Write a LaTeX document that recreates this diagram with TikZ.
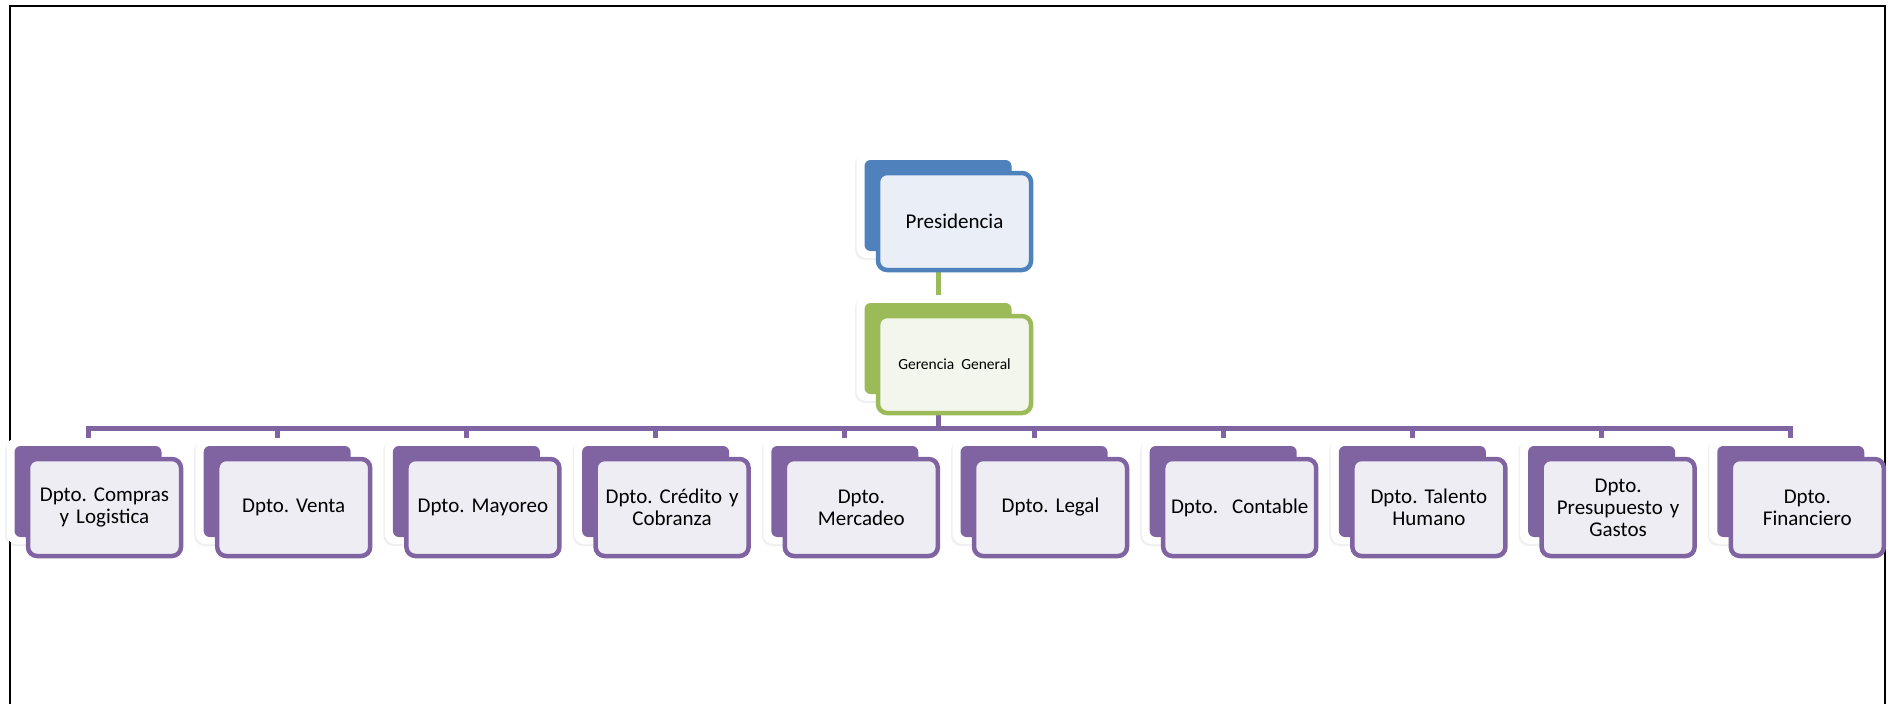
\documentclass[tikz,border=0pt]{standalone}
\usepackage{fontspec}
\setmainfont{Carlito}
\frenchspacing
\usetikzlibrary{shadows,backgrounds}
\definecolor{cblue}{HTML}{4F81BD}
\definecolor{cgreen}{HTML}{9BBB59}
\definecolor{cpurple}{HTML}{8064A2}
\definecolor{tblue}{HTML}{EAEFF7}
\definecolor{tgreen}{HTML}{F3F6EC}
\definecolor{tpurple}{HTML}{EFEDF4}
\tikzset{
  backbox/.style={rectangle, rounded corners=10pt, fill=white, minimum width=163pt,
    minimum height=106pt, inner sep=0pt,
    drop shadow={opacity=0.12, shadow xshift=-1.5pt, shadow yshift=-2pt}},
  fillbox/.style={rectangle, rounded corners=6pt, minimum width=147pt,
    minimum height=91pt, inner sep=0pt},
  frontbox/.style={rectangle, rounded corners=9pt, line width=4.5pt, minimum width=153pt,
    minimum height=97pt, inner sep=0pt, text width=150pt, align=center,
    font=\fontsize{21}{22}\selectfont},
  conn/.style={line width=5pt},
  frameline/.style={line width=2pt, black}
}
\newcommand\obox[6]{%
  \node[backbox] (#1-back) at (#2, #3+53) {};
  \node[fillbox, fill=#4] (#1-fill) at (#2, #3+53.5) {};
  \node[frontbox, draw=#4, fill=#5] (#1) at (#2+16.5, #3+69.5) {#6};
}
\begin{document}
\begin{tikzpicture}[x=1pt, y=-1pt]
\clip (0,0) rectangle (1893,704);
\draw[frameline] (10,720) -- (10,6) -- (1885,6) -- (1885,720);

\obox{pres}{938}{152}{cblue}{tblue}{Presidencia}
\obox{ger}{938}{295}{cgreen}{tgreen}{{\fontsize{15.5}{18}\selectfont Gerencia General}}

\foreach \i/\t in {1/{Dpto. Compras\\y Logistica},
                   2/{Dpto. Venta},
                   3/{Dpto. Mayoreo},
                   4/{Dpto. Crédito y\\Cobranza},
                   5/{Dpto.\\Mercadeo},
                   6/{Dpto. Legal},
                   7/{Dpto.\ \ Contable},
                   8/{Dpto. Talento\\Humano},
                   9/{Dpto.\\Presupuesto y\\Gastos},
                   10/{Dpto.\\Financiero}}{
  \pgfmathsetmacro\cx{88+189.2*(\i-1)}
  \obox{d\i}{\cx}{438}{cpurple}{tpurple}{\t}
}

\coordinate (bar) at (938,428);
\begin{scope}[on background layer]
  \draw[conn, cgreen] (pres-back.south) -- (ger-back.north);
  \foreach \i in {1,...,10}{
    \draw[conn, cpurple] (ger-back.south) -- (ger-back.south |- bar) -| (d\i-back.north);
  }
\end{scope}
\end{tikzpicture}
\end{document}
